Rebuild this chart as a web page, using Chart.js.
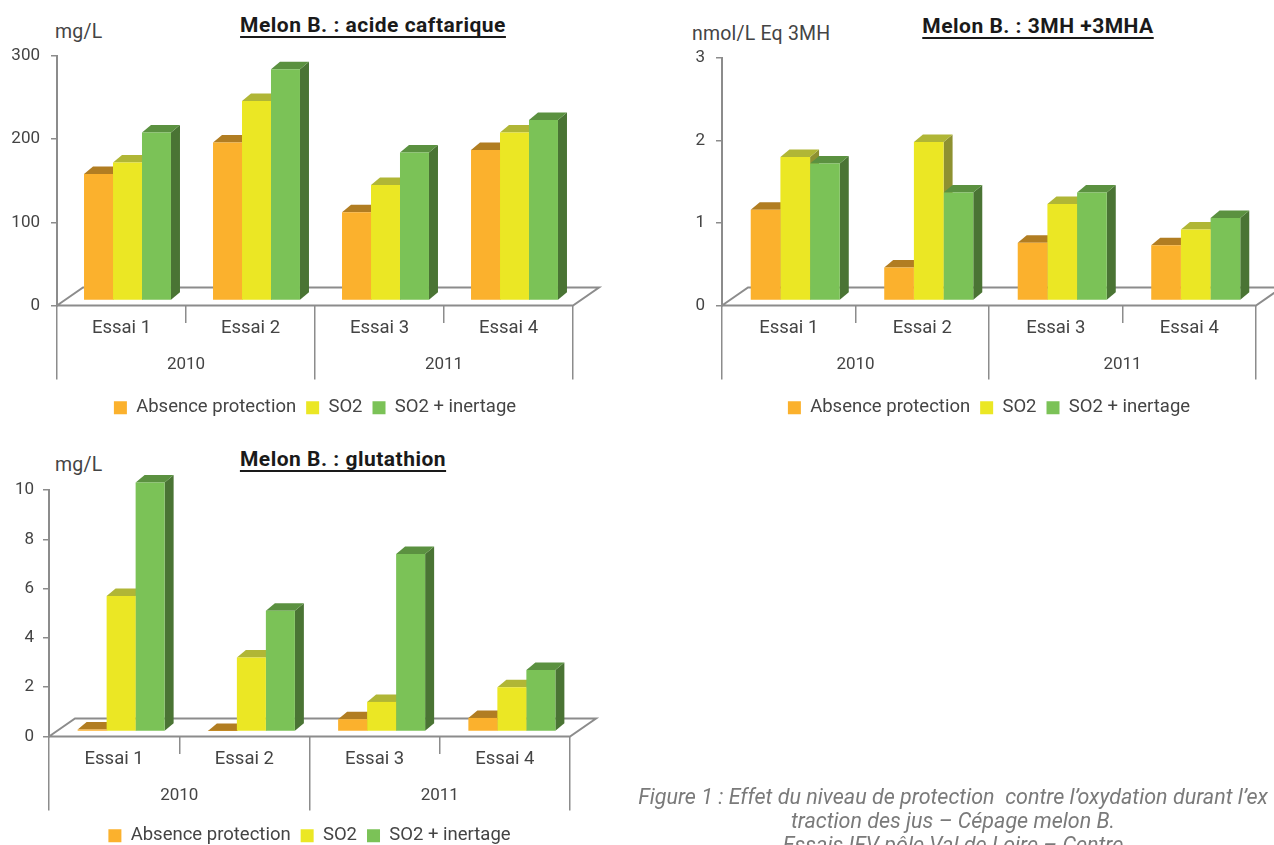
<!DOCTYPE html>
<html>
<head>
<meta charset="utf-8">
<script src="https://cdn.jsdelivr.net/npm/chart.js@4.4.1/dist/chart.umd.min.js"></script>
<style>
  html, body { margin: 0; padding: 0; background: #fff; overflow: hidden; }
  body { width: 1274px; height: 845px; position: relative; font-family: Roboto, "DejaVu Sans", sans-serif; }
  .box { position: absolute; }
  .title { position: absolute; font-weight: bold; font-size: 21px; letter-spacing: 0.5px; color: #1a1a1a; text-decoration: underline; text-underline-offset: 4px; white-space: nowrap; transform: translateX(-50%); }
  .unit { position: absolute; font-size: 19.5px; letter-spacing: 0.2px; color: #444; white-space: nowrap; }
  .caption { position: absolute; left: 613px; top: 785px; width: 680px; text-align: center; font-style: italic; font-size: 21.5px; line-height: 24px; color: #7a7a7a; white-space: nowrap; }
</style>
</head>
<body>

<div class="title" style="left:373px; top:13px;">Melon B. : acide caftarique</div>
<div class="unit" style="left:55px; top:20px;">mg/L</div>
<div class="box" style="left:0; top:0; width:620px; height:427px;"><canvas id="caftariqueChart"></canvas></div>

<div class="title" style="left:1038px; top:14px;">Melon B. : 3MH +3MHA</div>
<div class="unit" style="left:692px; top:22px;">nmol/L Eq 3MH</div>
<div class="box" style="left:640px; top:0; width:634px; height:427px;"><canvas id="thiolChart"></canvas></div>

<div class="title" style="left:343px; top:447px;">Melon B. : glutathion</div>
<div class="unit" style="left:55px; top:453px;">mg/L</div>
<div class="box" style="left:0; top:430px; width:620px; height:425px;"><canvas id="glutathionChart"></canvas></div>

<div class="caption">Figure 1 : Effet du niveau de protection&nbsp; contre l’oxydation durant l’ex<br>traction des jus – Cépage melon B.<br>Essais IFV pôle Val de Loire – Centre</div>

<script>
// categories
const essais = ['Essai 1', 'Essai 2', 'Essai 3', 'Essai 4'];
const years = ['2010', '2011'];
const seriesNames = ['Absence protection', 'SO2', 'SO2 + inertage'];

// acide caftarique (mg/L)
const caftAbsence = [152, 190, 106, 181];
const caftSO2 = [166, 240, 139, 202];
const caftInertage = [202, 278, 178, 217];

// 3MH + 3MHA (nmol/L Eq 3MH)
const thiolAbsence = [1.10, 0.40, 0.70, 0.67];
const thiolSO2 = [1.74, 1.92, 1.17, 0.86];
const thiolInertage = [1.66, 1.31, 1.31, 1.00];

// glutathion (mg/L)
const glutAbsence = [0.08, 0.02, 0.5, 0.55];
const glutSO2 = [5.5, 3.0, 1.2, 1.8];
const glutInertage = [10.1, 4.9, 7.2, 2.5];

// front, top, side colours for the 3d look
const fronts = ['#fbb12d', '#ebe724', '#7bc257'];
const tops = ['#b17d22', '#b0b636', '#5b9140'];
const sides = ['#9c6d1c', '#8e9131', '#4a7434'];

const textColor = '#444';
const lineColor = '#8c8c8c';

// draws floor, bar tops and sides
const fake3d = {
  id: 'fake3d',
  beforeDatasetsDraw(chart, args, opts) {
    const ctx = chart.ctx;
    const a = chart.chartArea;
    // floor
    ctx.save();
    ctx.strokeStyle = lineColor;
    ctx.lineWidth = 2;
    ctx.beginPath();
    ctx.moveTo(a.left, a.bottom);
    ctx.lineTo(a.left + opts.floorX, a.bottom - opts.floorY);
    ctx.lineTo(a.right + opts.floorX, a.bottom - opts.floorY);
    ctx.lineTo(a.right, a.bottom);
    ctx.lineTo(a.left, a.bottom);
    ctx.stroke();
    ctx.restore();

    ctx.save();
    ctx.translate(opts.shiftX, -opts.shiftY);
    const dx = opts.depthX, dy = opts.depthY;
    const n = chart.data.labels.length;
    for (let i = 0; i < n; i++) {
      chart.data.datasets.forEach((ds, d) => {
        const bar = chart.getDatasetMeta(d).data[i];
        const p = bar.getProps(['x', 'y', 'base', 'width'], true);
        const l = p.x - p.width / 2, r = p.x + p.width / 2;
        ctx.fillStyle = sides[d];
        ctx.beginPath();
        ctx.moveTo(r, p.y);
        ctx.lineTo(r + dx, p.y - dy);
        ctx.lineTo(r + dx, p.base - dy);
        ctx.lineTo(r, p.base);
        ctx.closePath();
        ctx.fill();
        ctx.fillStyle = tops[d];
        ctx.beginPath();
        ctx.moveTo(l, p.y);
        ctx.lineTo(l + dx, p.y - dy);
        ctx.lineTo(r + dx, p.y - dy);
        ctx.lineTo(r, p.y);
        ctx.closePath();
        ctx.fill();
      });
    }
    // left translated for the front faces, restored after
  },
  afterDatasetsDraw(chart) {
    chart.ctx.restore();
  }
};

function makeChart(id, values, yMax, step, look) {
  const canvas = document.getElementById(id);
  return new Chart(canvas.getContext('2d'), {
    type: 'bar',
    data: {
      labels: essais,
      datasets: values.map((v, d) => ({
        label: seriesNames[d],
        data: v,
        backgroundColor: fronts[d],
        borderWidth: 0,
        categoryPercentage: look.catPct,
        barPercentage: 1,
        clip: false
      }))
    },
    options: {
      responsive: true,
      maintainAspectRatio: false,
      animation: false,
      layout: { padding: { left: 0, right: look.padRight, top: look.padTop, bottom: 0 } },
      plugins: {
        legend: {
          position: 'bottom',
          fullSize: false,
          labels: {
            boxWidth: 13,
            boxHeight: 13,
            padding: 10,
            color: textColor,
            font: { family: 'Roboto', size: 18.5 }
          }
        },
        tooltip: { enabled: false },
        fake3d: look.depth
      },
      scales: {
        x: {
          weight: 0,
          grid: {
            display: true, drawOnChartArea: false, offset: true, tickLength: 74,
            color: lineColor, lineWidth: 1.5,
            // inner essai dividers stay short, year dividers run down
            tickBorderDash: (c) => (c.index % 2 === 1 ? [17, 200] : [])
          },
          border: { display: false },
          ticks: { color: textColor, padding: -62, font: { family: 'Roboto', size: 18.5 } },
          afterFit: (s) => { s.height = 37; }
        },
        x2: {
          type: 'category',
          position: 'bottom',
          weight: 1,
          labels: years,
          offset: true,
          grid: { display: false },
          border: { display: false },
          ticks: { color: textColor, padding: 4, font: { family: 'Roboto', size: 17 } },
          afterFit: (s) => { s.height = look.yearHeight; }
        },
        y: {
          min: 0,
          max: yMax,
          grid: { display: true, drawOnChartArea: false, tickLength: 6, color: lineColor, lineWidth: 1.5 },
          border: { display: true, color: lineColor, width: 2 },
          ticks: { stepSize: step, color: textColor, padding: look.yPad, font: { family: 'Roboto', size: 17 } },
          afterFit: (s) => { s.width = look.axisX; }
        }
      }
    },
    plugins: [fake3d]
  });
}

makeChart('caftariqueChart', [caftAbsence, caftSO2, caftInertage], 300, 100, {
  catPct: 0.674, padRight: 47, padTop: 56, yearHeight: 46, axisX: 57, yPad: 11,
  depth: { floorX: 26, floorY: 18, depthX: 9, depthY: 7.5, shiftX: 6, shiftY: 5 }
});

makeChart('thiolChart', [thiolAbsence, thiolSO2, thiolInertage], 3, 1, {
  catPct: 0.667, padRight: 18, padTop: 58, yearHeight: 46, axisX: 82, yPad: 11,
  depth: { floorX: 26, floorY: 18, depthX: 9, depthY: 7.5, shiftX: 6.5, shiftY: 5 }
});

makeChart('glutathionChart', [glutAbsence, glutSO2, glutInertage], 10, 2, {
  catPct: 0.668, padRight: 50, padTop: 60, yearHeight: 43, axisX: 49, yPad: 9,
  depth: { floorX: 26, floorY: 18, depthX: 9, depthY: 7.5, shiftX: 7, shiftY: 5 }
});
</script>
</body>
</html>
